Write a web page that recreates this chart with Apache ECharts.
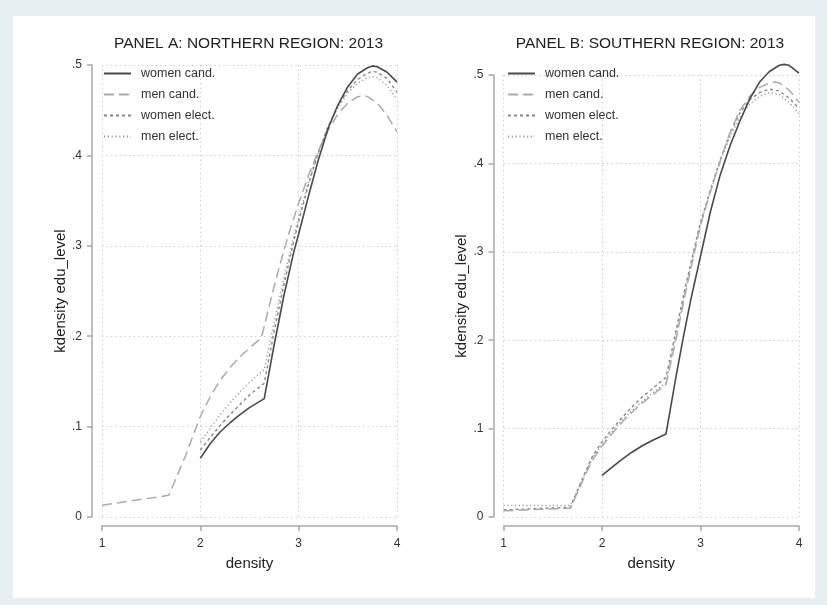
<!DOCTYPE html>
<html>
<head>
<meta charset="utf-8">
<script src="https://cdn.jsdelivr.net/npm/echarts@6/dist/echarts.min.js"></script>
<style>
  html, body { margin: 0; padding: 0; background: #e8eff2; }
  #chart { width: 827px; height: 605px; }
</style>
</head>
<body>
<div id="chart"></div>
<script>
// Kernel density estimates of education level, by gender and status
const seriesNames = ['women cand.', 'men cand.', 'women elect.', 'men elect.'];
const panelTitles = ['PANEL A: NORTHERN REGION: 2013', 'PANEL B: SOUTHERN REGION: 2013'];
const xTicks = [1, 2, 3, 4];
const yTicks = [0, 0.1, 0.2, 0.3, 0.4, 0.5];

// Panel A: northern region  ([density, kdensity] pairs)
const northWomenCand = [[2.0,.065],[2.1,.081],[2.2,.094],[2.3,.104],[2.4,.113],[2.5,.121],[2.65,.131],[2.75,.19],[2.85,.245],[2.95,.293],[3.0,.313],[3.1,.355],[3.2,.395],[3.3,.43],[3.4,.456],[3.5,.476],[3.6,.49],[3.7,.497],[3.75,.499],[3.8,.498],[3.9,.492],[4.0,.481]];
const northMenCand = [[1.0,.013],[1.68,.024],[1.85,.068],[1.95,.097],[2.0,.111],[2.1,.133],[2.2,.151],[2.3,.165],[2.4,.177],[2.5,.187],[2.62,.198],[2.75,.255],[2.85,.295],[2.91,.317],[3.0,.347],[3.1,.378],[3.2,.405],[3.3,.428],[3.4,.446],[3.5,.458],[3.6,.465],[3.67,.466],[3.7,.465],[3.8,.458],[3.9,.444],[4.0,.426]];
const northWomenElect = [[2.0,.074],[2.1,.088],[2.2,.101],[2.3,.113],[2.4,.124],[2.5,.135],[2.65,.148],[2.75,.205],[2.85,.257],[2.95,.305],[3.0,.327],[3.1,.368],[3.2,.403],[3.3,.432],[3.4,.455],[3.5,.472],[3.6,.484],[3.7,.491],[3.75,.493],[3.8,.492],[3.9,.485],[4.0,.47]];
const northMenElect = [[2.0,.083],[2.1,.098],[2.2,.113],[2.3,.126],[2.4,.138],[2.5,.149],[2.65,.163],[2.75,.215],[2.85,.265],[2.95,.31],[3.0,.332],[3.1,.371],[3.2,.404],[3.3,.432],[3.4,.453],[3.5,.469],[3.6,.48],[3.7,.486],[3.75,.487],[3.8,.486],[3.9,.477],[4.0,.462]];

// Panel B: southern region
const southWomenCand = [[2.0,.047],[2.1,.056],[2.2,.065],[2.3,.073],[2.4,.080],[2.5,.086],[2.65,.094],[2.75,.158],[2.82,.2],[2.9,.245],[3.0,.295],[3.1,.345],[3.2,.387],[3.3,.42],[3.4,.448],[3.5,.473],[3.6,.492],[3.7,.504],[3.8,.511],[3.85,.512],[3.9,.511],[4.0,.502]];
const southMenCand = [[1.0,.007],[1.68,.010],[1.8,.04],[1.9,.064],[2.0,.08],[2.1,.094],[2.2,.107],[2.3,.118],[2.4,.128],[2.5,.137],[2.65,.15],[2.75,.2],[2.85,.255],[2.95,.305],[3.0,.33],[3.1,.368],[3.2,.403],[3.3,.435],[3.4,.46],[3.5,.476],[3.6,.486],[3.7,.491],[3.76,.492],[3.8,.491],[3.9,.483],[4.0,.469]];
const southWomenElect = [[1.0,.008],[1.68,.011],[1.8,.043],[1.9,.068],[2.0,.085],[2.1,.099],[2.2,.112],[2.3,.124],[2.4,.135],[2.5,.144],[2.65,.158],[2.75,.21],[2.85,.262],[2.95,.31],[3.0,.333],[3.1,.37],[3.2,.404],[3.3,.434],[3.4,.457],[3.5,.472],[3.6,.48],[3.7,.484],[3.8,.482],[3.9,.474],[4.0,.462]];
const southMenElect = [[1.0,.013],[1.68,.013],[1.8,.042],[1.9,.066],[2.0,.082],[2.1,.096],[2.2,.109],[2.3,.12],[2.4,.13],[2.5,.139],[2.65,.152],[2.75,.205],[2.85,.258],[2.95,.307],[3.0,.331],[3.1,.368],[3.2,.402],[3.3,.43],[3.4,.452],[3.5,.467],[3.6,.476],[3.7,.48],[3.8,.478],[3.9,.469],[4.0,.456]];

const panelData = [
  [northWomenCand, northMenCand, northWomenElect, northMenElect],
  [southWomenCand, southMenCand, southWomenElect, southMenElect]
];

// line look for each group
const lineStyles = [
  { color: '#4a4a4a', width: 1.6, type: 'solid' },
  { color: '#ababab', width: 1.5, type: [10, 5] },
  { color: '#868686', width: 1.4, type: [3, 3] },
  { color: '#9a9a9a', width: 1.4, type: [1.2, 2.6] }
];

const FONT = '"Liberation Sans", Arial, sans-serif';
const grids = [
  { left: 102, top: 65, width: 295, height: 452 },
  { left: 503.5, top: 75, width: 295.5, height: 442 }
];
const titleCenters = [243.5, 645];
const legendLeft = [98, 502];

const axisLineStyle = { color: '#a8a8a8', width: 1.5 };
const splitStyle = { show: true, showMinLine: true, showMaxLine: true,
  lineStyle: { color: '#c9c9c9', width: 1, type: [1.3, 3.2] } };

const option = {
  backgroundColor: '#e8eff2',
  animation: false,
  graphic: [{ type: 'rect', z: -10, shape: { x: 13, y: 16, width: 802, height: 582 }, style: { fill: '#ffffff' } }],
  title: panelTitles.map((t, i) => ({
    text: t, left: titleCenters[i], top: 31, textAlign: 'center',
    textStyle: { fontFamily: FONT, fontSize: 15.5, fontWeight: 'normal', color: '#222' }
  })),
  legend: [0, 1].map(i => ({
    orient: 'vertical', left: legendLeft[i], top: 62,
    itemWidth: 27, itemHeight: 12, itemGap: 8,
    data: seriesNames, selectedMode: false,
    itemStyle: { color: 'transparent', borderWidth: 0, opacity: 0 },
    textStyle: { fontFamily: FONT, fontSize: 12.5, color: '#333', padding: [0, 0, 0, 5] }
  })),
  grid: grids,
  xAxis: [0, 1].map(i => ({
    type: 'value', gridIndex: i, min: xTicks[0], max: xTicks[xTicks.length - 1], interval: 1,
    offset: 9,
    name: 'density', nameLocation: 'middle', nameGap: 30,
    nameTextStyle: { fontFamily: FONT, fontSize: 15, color: '#222' },
    axisLine: { show: true, onZero: false, lineStyle: axisLineStyle },
    axisTick: { show: true, length: 5, lineStyle: axisLineStyle },
    axisLabel: { margin: 12, fontFamily: FONT, fontSize: 12, color: '#333' },
    splitLine: splitStyle
  })),
  yAxis: [0, 1].map(i => ({
    type: 'value', gridIndex: i, min: yTicks[0], max: yTicks[yTicks.length - 1], interval: 0.1,
    offset: 10,
    name: 'kdensity edu_level', nameLocation: 'middle', nameGap: 20, nameRotate: 90,
    nameTextStyle: { fontFamily: FONT, fontSize: 15, color: '#222' },
    axisLine: { show: true, onZero: false, lineStyle: axisLineStyle },
    axisTick: { show: true, length: 5, lineStyle: axisLineStyle },
    axisLabel: { margin: 10, fontFamily: FONT, fontSize: 12, color: '#333',
      formatter: v => v === 0 ? '0' : v.toFixed(1).replace(/^0/, '') },
    splitLine: splitStyle
  })),
  series: []
};

panelData.forEach((group, p) => {
  group.forEach((values, s) => {
    option.series.push({
      type: 'line', name: seriesNames[s], xAxisIndex: p, yAxisIndex: p,
      data: values, showSymbol: false, symbol: 'none', clip: false,
      lineStyle: lineStyles[s], itemStyle: { color: lineStyles[s].color },
      z: 10 - s
    });
  });
});

const chart = echarts.init(document.getElementById('chart'), null, { renderer: 'canvas' });
chart.setOption(option);
</script>
</body>
</html>
